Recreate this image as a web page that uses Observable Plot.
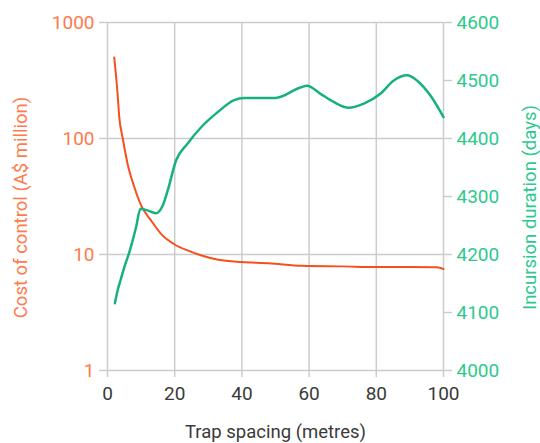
<!DOCTYPE html>
<html>
<head>
<meta charset="utf-8">
<script src="https://cdn.jsdelivr.net/npm/d3@7"></script>
<script src="https://cdn.jsdelivr.net/npm/@observablehq/plot@0.6"></script>
<style>
  html, body { margin: 0; padding: 0; background: #fff; }
</style>
</head>
<body>
<div id="chart"></div>
<script>
// Cost of control (A$ million), left log axis
const costSpacing = [2, 3, 3.5, 4.5, 6, 8, 10, 13, 16, 20, 24, 28, 33, 40, 48, 58, 70, 80, 90, 98, 100];
const costValues  = [500, 243, 153, 102, 60, 38, 26.5, 19.6, 15, 12.2, 10.8, 9.8, 9.0, 8.6, 8.4, 8.0, 7.9, 7.8, 7.8, 7.75, 7.5];

// Incursion duration (days), right linear axis
const daysSpacing = [2.2, 3, 4, 5, 6.5, 8.5, 9.8, 11.9, 14.4, 16.4, 17.9, 20.4, 23.8, 27.8, 32.7, 37.7, 40.6, 50, 57.4, 59.4, 63.4, 67.3, 71.8, 76.3, 81.2, 85.2, 89.2, 92.1, 96.1, 100];
const daysValues  = [4116, 4138, 4158, 4178, 4204, 4247, 4279, 4276, 4271, 4284, 4310, 4362, 4391, 4419, 4445, 4466, 4470, 4470, 4488, 4491, 4477, 4463, 4453, 4460, 4477, 4500, 4509, 4500, 4474, 4437];

const xTicks = [0, 20, 40, 60, 80, 100];
const costTicks = [1, 10, 100, 1000];
const daysTicks = [4000, 4100, 4200, 4300, 4400, 4500, 4600];
const daysDomain = [4000, 4600];

const xTitle = "Trap spacing (metres)";
const costTitle = "Cost of control (A$ million)";
const daysTitle = "Incursion duration (days)";

const orangeLine = "#f4511e";
const orangeText = "#ff7a4d";
const greenLine = "#17b27b";
const greenText = "#2dc98e";
const gridColor = "#cccccc";

// map days onto the log y range (1..1000)
const toY = v => Math.pow(10, 3 * (v - daysDomain[0]) / (daysDomain[1] - daysDomain[0]));
const fromY = y => Math.round(daysDomain[0] + Math.log10(y) / 3 * (daysDomain[1] - daysDomain[0]));

const cost = costSpacing.map((x, i) => ({x, y: costValues[i]}));
const days = daysSpacing.map((x, i) => ({x, y: toY(daysValues[i])}));

const chart = Plot.plot({
  width: 540,
  height: 443,
  marginLeft: 107,
  marginRight: 97,
  marginTop: 22,
  marginBottom: 73,
  style: {fontFamily: "Roboto, 'Liberation Sans', sans-serif", fontSize: "19px", background: "#fff"},
  x: {domain: [0, 100]},
  y: {type: "log", domain: [1, 1000]},
  marks: [
    Plot.gridX(xTicks, {stroke: gridColor, strokeOpacity: 1, strokeWidth: 1.5}),
    Plot.gridY(costTicks, {stroke: gridColor, strokeOpacity: 1, strokeWidth: 1.5}),
    Plot.axisX(xTicks, {
      tickSize: 7, tickPadding: 9, stroke: gridColor, strokeWidth: 1.5, fill: "#3a3a3a",
      label: null
    }),
    Plot.axisY(costTicks, {
      anchor: "left", tickSize: 8, tickPadding: 5, stroke: gridColor, strokeWidth: 1.5, fill: orangeText,
      tickFormat: d => String(d), label: null
    }),
    Plot.axisY(daysTicks.map(toY), {
      anchor: "right", tickSize: 8, tickPadding: 5, stroke: gridColor, strokeWidth: 1.5, fill: greenText,
      tickFormat: d => String(fromY(d)), label: null
    }),
    Plot.text([xTitle], {frameAnchor: "bottom", dy: 62, textAnchor: "middle", lineAnchor: "middle", text: d => d, fill: "#3a3a3a", fontSize: 18.5}),
    Plot.text([costTitle], {frameAnchor: "left", rotate: -90, dx: -86, dy: 11, textAnchor: "middle", lineAnchor: "middle", text: d => d, fill: orangeText, fontSize: 18.5}),
    Plot.text([daysTitle], {frameAnchor: "right", rotate: -90, dx: 87, dy: 11, textAnchor: "middle", lineAnchor: "middle", text: d => d, fill: greenText, fontSize: 18.5}),
    Plot.line(cost, {x: "x", y: "y", stroke: orangeLine, strokeWidth: 2, curve: "monotone-x"}),
    Plot.line(days, {x: "x", y: "y", stroke: greenLine, strokeWidth: 2.5, curve: "monotone-x"})
  ]
});
document.getElementById("chart").appendChild(chart);
</script>
</body>
</html>
